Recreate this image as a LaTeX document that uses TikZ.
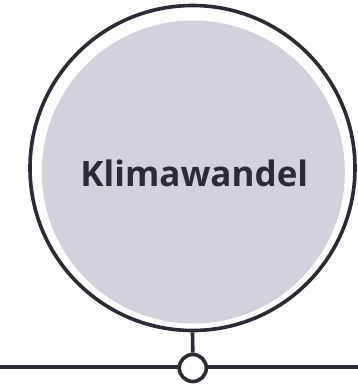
\documentclass[tikz,border=0pt]{standalone}
\usepackage{fontspec}
\setmainfont{Open Sans}
\definecolor{inkdark}{HTML}{2B2B35}
\definecolor{discgray}{HTML}{D1D2DA}
\begin{document}
\begin{tikzpicture}[x=1pt,y=-1pt,
  ring/.style={draw=inkdark,line width=3.6pt},
  link/.style={draw=inkdark,line width=3.6pt}]
\useasboundingbox (0,0) rectangle (358,384);
% grey disc with the title
\fill[discgray] (193.3,172) circle[radius=151.5];
\node[font=\bfseries\fontsize{35}{40}\selectfont,text=inkdark,anchor=base,inner sep=0pt] (title) at (194.3,186.5) {Klimawandel};
% outer ring
\node[ring,circle,minimum size=325pt,inner sep=0pt] (outer) at (192.5,168) {};
% timeline and its marker
\coordinate (left) at (0,367);
\coordinate (right) at (358,367);
\node[ring,circle,fill=white,minimum size=27pt,inner sep=0pt] (dot) at (192.8,368) {};
\draw[link] (left) -- (left -| dot.west);
\draw[link] (right -| dot.east) -- (right);
\draw[link] (outer.south) -- (dot.north);
\end{tikzpicture}
\end{document}
